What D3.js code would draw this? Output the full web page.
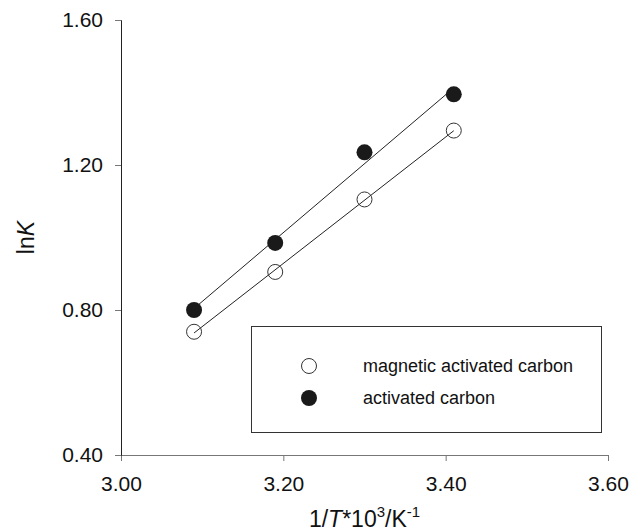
<!DOCTYPE html>
<html lang="en">
<head>
    <meta charset="UTF-8">
    <title>lnK vs 1/T</title>
    <script src="https://cdn.jsdelivr.net/npm/d3@7"></script>
    <style>
        body { margin: 0; background: #fff; }
        svg { font-family: "Liberation Sans", Arial, sans-serif; }
    </style>
</head>
<body>
    <script>
        'use strict';
        // values
        var invT = [3.09, 3.19, 3.30, 3.41];
        var magneticAC = [0.74, 0.905, 1.105, 1.295];
        var activatedC = [0.80, 0.985, 1.235, 1.395];
        var xTicks = [3.0, 3.2, 3.4, 3.6];
        var yTicks = [0.4, 0.8, 1.2, 1.6];
        var seriesNames = ['magnetic activated carbon', 'activated carbon'];

        var w = 643, h = 532;
        var margin = { top: 20, right: 35, bottom: 77, left: 121 };

        var svg = d3.select('body').append('svg')
            .attr('width', w)
            .attr('height', h);

        var x = d3.scaleLinear().domain([3.0, 3.6]).range([margin.left, w - margin.right]);
        var y = d3.scaleLinear().domain([0.4, 1.6]).range([h - margin.bottom, margin.top]);

        // axes
        var xAxis = svg.append('g')
            .attr('transform', 'translate(0,' + (h - margin.bottom) + ')')
            .call(d3.axisBottom(x).tickValues(xTicks).tickFormat(d3.format('.2f')).tickSizeOuter(0).tickSize(6).tickPadding(15));
        xAxis.select('.domain').attr('stroke', '#777');
        xAxis.selectAll('.tick line').attr('stroke', '#777');
        xAxis.selectAll('.tick text').attr('font-size', '21px').attr('fill', '#111');

        var yAxis = svg.append('g')
            .attr('transform', 'translate(' + margin.left + ',0)')
            .call(d3.axisLeft(y).tickValues(yTicks).tickFormat(d3.format('.2f')).tickSizeOuter(0).tickSize(6).tickPadding(12));
        yAxis.select('.domain').attr('stroke', '#222');
        yAxis.selectAll('.tick line').attr('stroke', '#777');
        yAxis.selectAll('.tick text').attr('font-size', '21px').attr('fill', '#111');

        // regression lines
        function fit(xs, ys) {
            var mx = d3.mean(xs), my = d3.mean(ys);
            var sxy = d3.sum(xs, function(v, i) { return (v - mx) * (ys[i] - my); });
            var sxx = d3.sum(xs, function(v) { return (v - mx) * (v - mx); });
            var b = sxy / sxx;
            return function(v) { return my + b * (v - mx); };
        }

        var line = d3.line()
            .x(function(d) { return x(d[0]); })
            .y(function(d) { return y(d[1]); });

        [magneticAC, activatedC].forEach(function(ys) {
            var f = fit(invT, ys);
            var ends = [d3.min(invT), d3.max(invT)];
            svg.append('path')
                .attr('d', line(ends.map(function(v) { return [v, f(v)]; })))
                .attr('fill', 'none')
                .attr('stroke', '#222')
                .attr('stroke-width', 1);
        });

        // points
        svg.selectAll('circle.open')
            .data(invT)
            .enter()
            .append('circle')
            .attr('class', 'open')
            .attr('cx', function(d) { return x(d); })
            .attr('cy', function(d, i) { return y(magneticAC[i]); })
            .attr('r', 7.5)
            .attr('fill', 'none')
            .attr('stroke', '#333')
            .attr('stroke-width', 1);

        svg.selectAll('circle.filled')
            .data(invT)
            .enter()
            .append('circle')
            .attr('class', 'filled')
            .attr('cx', function(d) { return x(d); })
            .attr('cy', function(d, i) { return y(activatedC[i]); })
            .attr('r', 8)
            .attr('fill', '#1a1a1a');

        // legend
        var lg = svg.append('g');
        lg.append('rect')
            .attr('x', 251.5).attr('y', 326.5)
            .attr('width', 350).attr('height', 106)
            .attr('fill', 'none')
            .attr('stroke', '#333')
            .attr('stroke-width', 1);
        var rows = [366, 398];
        lg.append('circle').attr('cx', 309).attr('cy', rows[0]).attr('r', 7.5)
            .attr('fill', 'none').attr('stroke', '#333');
        lg.append('circle').attr('cx', 309).attr('cy', rows[1]).attr('r', 8)
            .attr('fill', '#1a1a1a');
        lg.selectAll('text')
            .data(seriesNames)
            .enter()
            .append('text')
            .attr('x', 363)
            .attr('y', function(d, i) { return rows[i] + 6; })
            .attr('font-size', '18px')
            .attr('fill', '#111')
            .text(function(d) { return d; });

        // axis titles
        var xt = svg.append('text')
            .attr('x', (margin.left + w - margin.right) / 2)
            .attr('y', 527)
            .attr('text-anchor', 'middle')
            .attr('font-size', '23px')
            .attr('fill', '#111');
        xt.append('tspan').text('1/');
        xt.append('tspan').attr('font-style', 'italic').text('T');
        xt.append('tspan').text('*10');
        xt.append('tspan').attr('font-size', '15px').attr('dy', -10).text('3');
        xt.append('tspan').attr('dy', 10).text('/K');
        xt.append('tspan').attr('font-size', '15px').attr('dy', -10).text('-1');

        var yt = svg.append('text')
            .attr('transform', 'translate(34,' + y(1.0) + ') rotate(-90)')
            .attr('text-anchor', 'middle')
            .attr('font-size', '23px')
            .attr('fill', '#111');
        yt.append('tspan').text('ln');
        yt.append('tspan').attr('font-style', 'italic').text('K');
    </script>
</body>
</html>
